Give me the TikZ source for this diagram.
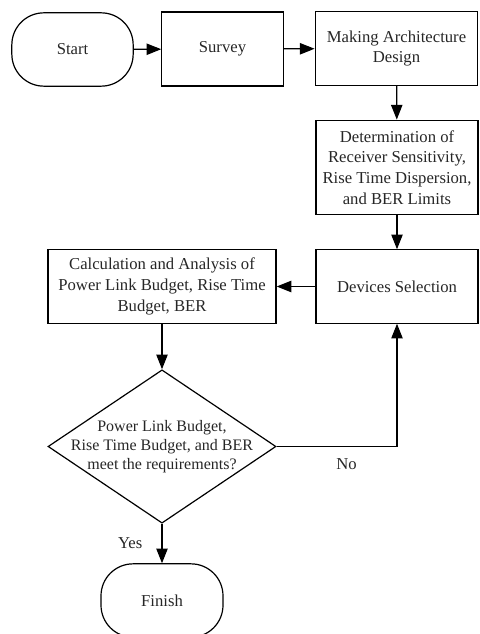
\documentclass[tikz,border=0pt]{standalone}
\usepackage{fontspec}
\setmainfont{Liberation Serif}
\usetikzlibrary{arrows.meta,shapes.geometric}

\begin{document}
\begin{tikzpicture}[x=0.75pt, y=-0.75pt, line width=0.9pt,
    every node/.style={font=\fontsize{12.5}{15.5}\selectfont, text=black!85},
    box/.style={draw, align=center, inner sep=2pt},
    term/.style={draw, rounded corners=24pt, minimum width=91pt, minimum height=55pt},
    cond/.style={draw, diamond, minimum width=171pt, minimum height=115pt, inner sep=0pt},
    flow/.style={-{Triangle[length=11pt, width=8.5pt]}}]
  \useasboundingbox (0,0) rectangle (479,634);
  % top row
  \node[term] (start) at (72.5,49.5) {Start};
  \node[box, minimum width=91pt, minimum height=55.5pt] (survey) at (222.5,49) {Survey};
  \node[box, minimum width=122pt, minimum height=55pt] (design) at (396.5,48.5) {Making Architecture\\Design};
  % right column
  \node[box, minimum width=121.5pt, minimum height=71pt] (determ) at (397,167.5)
    {Determination of\\Receiver Sensitivity,\\Rise Time Dispersion,\\and BER Limits};
  \node[box, minimum width=121.5pt, minimum height=55pt] (devices) at (397,286.5) {Devices Selection};
  % left column
  \node[box, minimum width=171pt, minimum height=55pt] (calc) at (162,286.5)
    {Calculation and Analysis of\\Power Link Budget, Rise Time\\Budget, BER};
  \node[cond, label={[align=center, font=\fontsize{12}{14.3}\selectfont]center:{Power Link Budget,\\Rise Time Budget, and BER\\meet the requirements?}}]
    (check) at (162,446.5) {};
  \node[term, minimum width=91.5pt] (finish) at (162,600.5) {Finish};

  \draw[flow] (start) -- (survey);
  \draw[flow] (survey) -- (design);
  \draw[flow] (design) -- (determ);
  \draw[flow] (determ) -- (devices);
  \draw[flow] (devices) -- (calc);
  \draw[flow] (calc) -- (check);
  \draw[flow] (check.south) -- node[left=11pt] {Yes} (finish.north);
  \draw[flow] (check.east) -| node[pos=0.29, below=5pt] {No} (devices.south);
\end{tikzpicture}
\end{document}
